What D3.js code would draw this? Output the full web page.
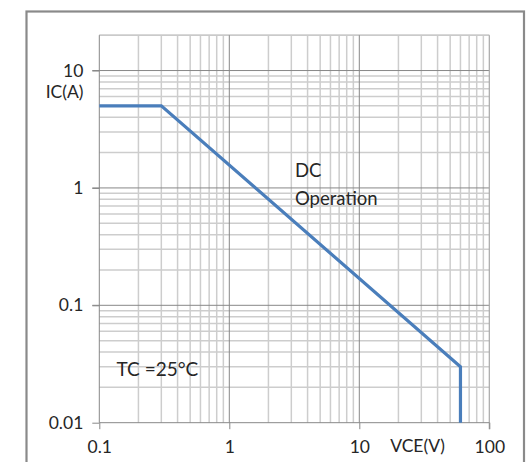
<!DOCTYPE html>
<html>
<head>
<meta charset="utf-8">
<script src="https://cdn.jsdelivr.net/npm/d3@7"></script>
<style>
  html, body { margin: 0; padding: 0; background: #fff; }
  svg { display: block; }
  text { font-family: Lato, "Open Sans", sans-serif; fill: #262626; }
</style>
</head>
<body>
<svg id="chart" width="529" height="462"></svg>
<script>
// ---- data ----
const vce = [0.1, 0.3, 60, 60];          // VCE (V)
const ic  = [5, 5, 0.03, 0.01];          // IC (A)
const xTickValues = [0.1, 1, 10, 100];
const xTickLabels = ["0.1", "1", "10", "100"];
const yTickValues = [0.01, 0.1, 1, 10];
const yTickLabels = ["0.01", "0.1", "1", "10"];
const xTitle = "VCE(V)";
const yTitle = "IC(A)";
const annotDC = ["DC", "Operation"];
const annotTC = "TC =25°C";

// ---- layout ----
const svg = d3.select("#chart");
const x = d3.scaleLog().domain([0.1, 100]).range([99.3, 489.3]);
const y = d3.scaleLog().domain([0.01, 20]).range([422.7, 35.2]);

// outer frame
svg.append("rect")
  .attr("x", 26.5).attr("y", 11.5)
  .attr("width", 497.5).attr("height", 480)
  .attr("fill", "none").attr("stroke", "#8a8a8a").attr("stroke-width", 2.2);

const isMajor = v => Math.abs(Math.log10(v) - Math.round(Math.log10(v))) < 1e-9;

// minor grid
const g = svg.append("g");
const xt = x.ticks();
const yt = y.ticks().filter(v => v <= 20);
g.selectAll(".vminor").data(xt.filter(v => !isMajor(v))).join("line")
  .attr("x1", d => x(d)).attr("x2", d => x(d))
  .attr("y1", y(20)).attr("y2", y(0.01))
  .attr("stroke", "#cdcdcd").attr("stroke-width", 1.5);
g.selectAll(".hminor").data(yt.filter(v => !isMajor(v))).join("line")
  .attr("y1", d => y(d)).attr("y2", d => y(d))
  .attr("x1", x(0.1)).attr("x2", x(100))
  .attr("stroke", "#cdcdcd").attr("stroke-width", 1.5);
// top border line at 20
g.append("line").attr("x1", x(0.1)).attr("x2", x(100))
  .attr("y1", y(20)).attr("y2", y(20))
  .attr("stroke", "#cacaca").attr("stroke-width", 1.5);

// major grid
g.selectAll(".vmajor").data(xTickValues.slice(1, 3)).join("line")
  .attr("x1", d => x(d)).attr("x2", d => x(d))
  .attr("y1", y(20)).attr("y2", y(0.01))
  .attr("stroke", "#888").attr("stroke-width", 1);
g.selectAll(".hmajor").data(yTickValues.slice(1)).join("line")
  .attr("y1", d => y(d)).attr("y2", d => y(d))
  .attr("x1", x(0.1) - 7).attr("x2", x(100))
  .attr("stroke", "#888").attr("stroke-width", 1);
// right border (x=100)
g.append("line").attr("x1", x(100)).attr("x2", x(100))
  .attr("y1", y(20)).attr("y2", y(0.01) + 6.5)
  .attr("stroke", "#a8a8a8").attr("stroke-width", 1.2);

// axes
const xAxis = d3.axisBottom(x).tickValues(xTickValues)
  .tickFormat((d, i) => xTickLabels[i]).tickSize(6.5).tickSizeOuter(0).tickPadding(11);
const yAxis = d3.axisLeft(y).tickValues(yTickValues)
  .tickFormat((d, i) => yTickLabels[i]).tickSize(7).tickSizeOuter(0).tickPadding(9);

const gx = svg.append("g").attr("transform", `translate(0,${y(0.01)})`).call(xAxis);
gx.select(".domain").attr("stroke", "#888").attr("d", `M${x(0.1)},0H${x(100)}`);
gx.selectAll(".tick line").attr("stroke", "#888");
gx.selectAll(".tick text").attr("font-size", 17.5).attr("fill", "#262626")
  .attr("font-family", "Lato, sans-serif");

const gy = svg.append("g").attr("transform", `translate(${x(0.1)},0)`).call(yAxis);
gy.select(".domain").attr("stroke", "#888").attr("d", `M0,${y(20)}V${y(0.01)}`);
gy.selectAll(".tick line").attr("stroke", "#888");
gy.selectAll(".tick text").attr("font-size", 17.5).attr("fill", "#262626")
  .attr("font-family", "Lato, sans-serif").attr("dy", "0.32em");

// axis titles
svg.append("text").attr("x", 83.5).attr("y", 97.5).attr("text-anchor", "end")
  .attr("font-size", 17.5).text(yTitle);
svg.append("text").attr("x", 417.5).attr("y", 451.5).attr("text-anchor", "middle")
  .attr("font-size", 17.5).text(xTitle);

// curve
const line = d3.line().x(d => x(d[0])).y(d => y(d[1]));
svg.append("path").datum(vce.map((v, i) => [v, ic[i]]))
  .attr("d", line).attr("fill", "none")
  .attr("stroke", "#4a7ebb").attr("stroke-width", 3.2).attr("stroke-linejoin", "miter");

// annotations
svg.append("text").attr("x", 295).attr("y", 176.5).attr("font-size", 18.5).text(annotDC[0]);
svg.append("text").attr("x", 295).attr("y", 205).attr("font-size", 18.5).text(annotDC[1]);
svg.append("text").attr("x", 116.5).attr("y", 376).attr("font-size", 19).text(annotTC);
</script>
</body>
</html>
